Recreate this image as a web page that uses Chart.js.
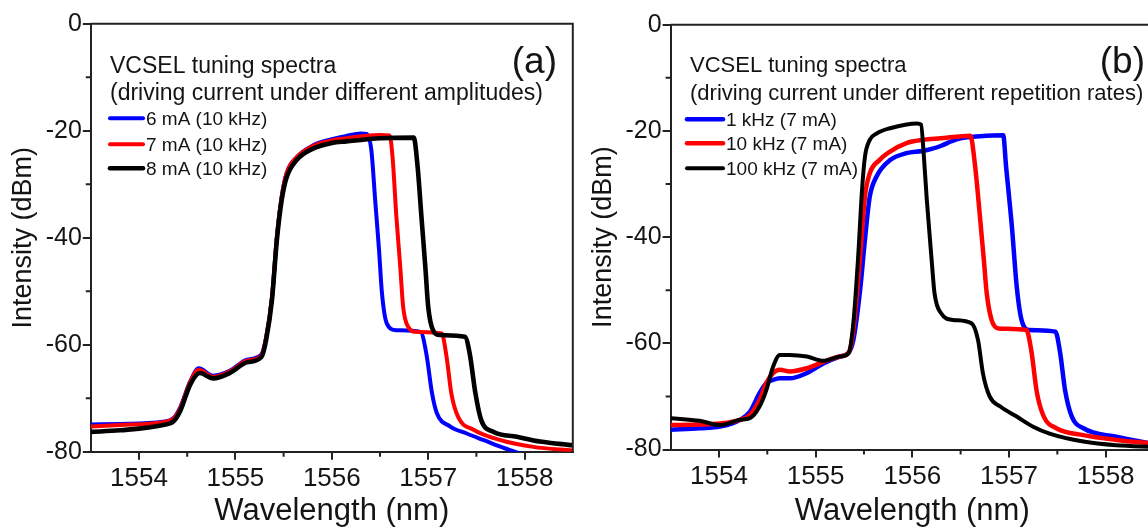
<!DOCTYPE html>
<html><head><meta charset="utf-8">
<script src="https://cdn.jsdelivr.net/npm/chart.js@4.4.0/dist/chart.umd.min.js"></script>
<style>
html,body{margin:0;padding:0;background:#fff;}
body{width:1148px;height:531px;overflow:hidden;position:relative;}
canvas{position:absolute;top:0;}
#ca{left:0;}
#cb{left:580px;}
</style></head><body>
<canvas id="ca" width="600" height="531"></canvas>
<canvas id="cb" width="590" height="531"></canvas>
<script>
// ---------- tick values ----------
const xTicks = [1554, 1555, 1556, 1557, 1558];
const xMinorTicks = [1554.5, 1555.5, 1556.5, 1557.5];
const yTicks = [-80, -60, -40, -20, 0];
const yMinorTicks = [-70, -50, -30, -10];

// ---------- panel (a): different amplitudes ----------
const aLabels = ['6 mA (10 kHz)', '7 mA (10 kHz)', '8 mA (10 kHz)'];
const a6X = [1553.5,1553.8,1554.25,1554.36,1554.43,1554.53,1554.62,1554.77,1554.94,1555.12,1555.27,1555.32,1555.38,1555.43,1555.48,1555.53,1555.64,1555.81,1556.0,1556.15,1556.30,1556.36,1556.41,1556.45,1556.49,1556.52,1556.57,1556.67,1556.92,1556.98,1557.04,1557.09,1557.23,1557.40,1557.57,1557.80,1558.0,1558.5];
const a6Y = [-74.9,-74.8,-74.4,-73.7,-71.6,-66.9,-64.4,-65.8,-64.9,-62.8,-61.8,-58.5,-51.0,-39.8,-32.3,-28.0,-24.9,-22.7,-21.6,-21.0,-20.5,-20.6,-23.6,-33.0,-42.3,-50.3,-56.0,-57.3,-57.6,-61.6,-69.1,-72.8,-75.3,-76.6,-77.8,-79.4,-80.5,-81.0];
const a7X = [1553.5,1553.8,1554.25,1554.36,1554.43,1554.53,1554.62,1554.77,1554.94,1555.12,1555.27,1555.32,1555.38,1555.43,1555.48,1555.53,1555.64,1555.81,1556.0,1556.15,1556.33,1556.50,1556.60,1556.63,1556.67,1556.71,1556.74,1556.79,1556.88,1557.14,1557.19,1557.24,1557.31,1557.47,1557.74,1558.09,1558.5];
const a7Y = [-75.3,-75.0,-74.5,-73.8,-71.8,-67.0,-64.7,-66.0,-65.0,-63.0,-62.0,-58.6,-51.2,-40.0,-32.4,-28.0,-24.9,-22.8,-21.8,-21.4,-21.0,-20.8,-20.9,-24.9,-36.1,-45.4,-52.9,-56.6,-57.6,-57.9,-62.2,-69.1,-73.5,-75.9,-77.8,-79.1,-79.8];
const a8X = [1553.5,1553.8,1554.25,1554.36,1554.43,1554.53,1554.63,1554.77,1554.94,1555.12,1555.27,1555.32,1555.38,1555.43,1555.48,1555.53,1555.64,1555.81,1556.0,1556.15,1556.5,1556.85,1556.89,1556.93,1556.97,1557.0,1557.05,1557.12,1557.38,1557.43,1557.49,1557.55,1557.68,1557.92,1558.16,1558.5];
const a8Y = [-76.3,-76.0,-75.0,-74.3,-72.3,-67.5,-65.3,-66.3,-65.3,-63.3,-62.3,-59.0,-51.5,-40.5,-33.0,-28.8,-25.4,-23.3,-22.3,-22.0,-21.4,-21.3,-26.7,-36.1,-45.4,-52.9,-57.3,-58.2,-58.5,-61.6,-69.1,-74.1,-76.3,-77.2,-78.1,-78.8];

// ---------- panel (b): different repetition rates ----------
const bLabels = ['1 kHz (7 mA)', '10 kHz (7 mA)', '100 kHz (7 mA)'];
const b1X = [1553.5,1553.8,1554.01,1554.22,1554.32,1554.42,1554.49,1554.56,1554.63,1554.73,1554.91,1555.08,1555.25,1555.34,1555.39,1555.46,1555.51,1555.56,1555.63,1555.77,1555.94,1556.1,1556.2,1556.3,1556.4,1556.5,1556.7,1556.94,1556.97,1557.03,1557.08,1557.13,1557.21,1557.48,1557.53,1557.58,1557.65,1557.77,1558.11,1558.5];
const b1Y = [-76.3,-76.0,-75.7,-74.4,-72.9,-69.4,-67.5,-66.9,-66.6,-66.6,-65.6,-63.8,-62.5,-61.8,-59.4,-50.0,-40.5,-32.4,-28.6,-25.5,-24.2,-23.8,-23.4,-22.8,-22.0,-21.4,-21.0,-20.8,-26.7,-38.0,-49.3,-55.6,-57.5,-57.8,-61.9,-68.8,-73.8,-76.0,-77.6,-79.0];
const b10X = [1553.5,1553.8,1554.01,1554.22,1554.32,1554.42,1554.49,1554.56,1554.63,1554.73,1554.91,1555.08,1555.25,1555.34,1555.39,1555.46,1555.51,1555.56,1555.66,1555.77,1555.94,1556.11,1556.29,1556.6,1556.65,1556.7,1556.74,1556.77,1556.82,1556.89,1557.18,1557.23,1557.29,1557.36,1557.49,1557.77,1558.11,1558.5];
const b10Y = [-75.4,-75.3,-75.1,-74.4,-73.5,-70.7,-67.5,-65.6,-65.0,-65.3,-64.7,-63.5,-62.5,-61.8,-57.5,-43.7,-32.4,-28.0,-25.5,-23.9,-22.3,-21.7,-21.4,-20.9,-26.7,-36.2,-44.3,-50.6,-55.6,-57.2,-57.5,-61.3,-69.4,-73.8,-76.0,-77.3,-78.2,-78.9];
const b100X = [1553.5,1553.8,1554.01,1554.22,1554.32,1554.42,1554.49,1554.56,1554.63,1554.73,1554.91,1555.08,1555.25,1555.34,1555.39,1555.44,1555.48,1555.51,1555.56,1555.63,1555.77,1556.05,1556.09,1556.12,1556.15,1556.2,1556.23,1556.3,1556.42,1556.61,1556.68,1556.73,1556.8,1556.91,1557.08,1557.25,1557.42,1557.77,1558.11,1558.5];
const b100Y = [-74.1,-74.6,-75.4,-74.4,-74.1,-71.9,-68.8,-64.4,-62.2,-62.2,-62.5,-63.3,-62.5,-61.9,-56.2,-43.7,-31.1,-24.9,-21.7,-20.5,-19.5,-18.6,-18.8,-24.9,-33.0,-44.3,-50.6,-54.4,-55.6,-56.2,-59.4,-65.6,-70.0,-71.9,-73.8,-75.7,-77.0,-78.5,-79.2,-79.5];

const FONT = "'Liberation Sans', Arial, Helvetica, sans-serif";
const INK = '#141414';

function pts(xs, ys) { return xs.map((x, i) => ({x: x, y: ys[i]})); }

const deco = {
  id: 'deco',
  afterDraw(chart, args, o) {
    const ctx = chart.ctx, ca = chart.chartArea;
    const xs = chart.scales.x, ys = chart.scales.y;
    ctx.save();
    // frame top & right
    ctx.strokeStyle = '#222'; ctx.lineWidth = 2;
    ctx.beginPath();
    ctx.moveTo(ca.left, ca.top); ctx.lineTo(ca.right, ca.top); ctx.lineTo(ca.right, ca.bottom);
    ctx.stroke();
    // minor ticks
    ctx.beginPath();
    xMinorTicks.forEach(v => { const p = xs.getPixelForValue(v); ctx.moveTo(p, ca.bottom); ctx.lineTo(p, ca.bottom + 5); });
    yMinorTicks.forEach(v => { const p = ys.getPixelForValue(v); ctx.moveTo(ca.left, p); ctx.lineTo(ca.left - 5, p); });
    ctx.stroke();
    // annotation text
    ctx.fillStyle = INK;
    ctx.textAlign = 'left'; ctx.textBaseline = 'alphabetic';
    ctx.font = o.textSize + 'px ' + FONT;
    o.text.forEach((t, i) => ctx.fillText(t, o.textX, o.textY[i]));
    ctx.font = '37px ' + FONT;
    ctx.textAlign = 'right';
    ctx.fillText(o.tag, o.tagX, o.tagY);
    // legend
    ctx.font = '19px ' + FONT;
    ctx.textAlign = 'left'; ctx.textBaseline = 'middle';
    chart.data.datasets.forEach((d, i) => {
      const y = o.legY[i];
      ctx.strokeStyle = d.borderColor; ctx.lineWidth = d.borderWidth; ctx.lineCap = 'round';
      ctx.beginPath(); ctx.moveTo(o.legX0, y); ctx.lineTo(o.legX1, y); ctx.stroke();
      ctx.fillStyle = INK;
      ctx.fillText(d.label, o.legX1 + 3, y + 1);
    });
    ctx.restore();
  }
};

function makeChart(id, labels, series, widths, geo, decoOpts) {
  const colors = ['#0000ff', '#ff0000', '#000000'];
  const datasets = series.map((s, i) => ({
    label: labels[i],
    data: pts(s[0], s[1]),
    borderColor: colors[i],
    backgroundColor: colors[i],
    borderWidth: widths[i],
    pointRadius: 0,
    cubicInterpolationMode: 'monotone',
    fill: false,
    clip: 0,
    order: 2 - i
  }));
  return new Chart(document.getElementById(id), {
    type: 'line',
    data: {datasets: datasets},
    plugins: [deco],
    options: {
      responsive: false,
      animation: false,
      events: [],
      layout: {padding: {left: 0, top: geo.top, right: geo.right, bottom: 0}},
      plugins: {legend: {display: false}, tooltip: {enabled: false}, deco: decoOpts},
      scales: {
        x: {
          type: 'linear', min: 1553.5, max: 1558.5,
          afterBuildTicks: s => { s.ticks = xTicks.map(v => ({value: v})); },
          afterFit: s => { s.height = geo.xh; },
          ticks: {autoSkip: false, maxRotation: 0, padding: 4, color: INK, font: {family: FONT, size: 26},
                  callback: v => String(v)},
          grid: {drawOnChartArea: false, drawTicks: true, tickLength: 8, color: '#222', lineWidth: 2},
          border: {display: true, color: '#222', width: 2},
          title: {display: true, text: 'Wavelength (nm)', color: INK, font: {family: FONT, size: 31},
                  padding: {top: 0, bottom: 1}}
        },
        y: {
          type: 'linear', min: -80, max: 0,
          afterBuildTicks: s => { s.ticks = yTicks.map(v => ({value: v})); },
          afterFit: s => { s.width = geo.yw; },
          ticks: {autoSkip: false, padding: 1, color: INK, font: {family: FONT, size: 25},
                  callback: v => String(v)},
          grid: {drawOnChartArea: false, drawTicks: true, tickLength: 8, color: '#222', lineWidth: 2},
          border: {display: true, color: '#222', width: 2},
          title: {display: true, text: 'Intensity (dBm)', color: INK, font: {family: FONT, size: 27},
                  padding: {top: 7, bottom: 0}}
        }
      }
    }
  });
}

makeChart('ca', aLabels, [[a6X, a6Y], [a7X, a7Y], [a8X, a8Y]], [4, 4, 4.6],
  {top: 23.7, right: 27.2, xh: 79.3, yw: 90.8},
  {text: ['VCSEL tuning spectra', '(driving current under different amplitudes)'], textSize: 23,
   textX: 110, textY: [72.7, 100], tag: '(a)', tagX: 557, tagY: 73,
   legX0: 110, legX1: 143, legY: [118.3, 144.3, 168.3]});

makeChart('cb', bLabels, [[b1X, b1Y], [b10X, b10Y], [b100X, b100Y]], [4.5, 4.5, 4],
  {top: 24.7, right: 16, xh: 81.5, yw: 90.6},
  {text: ['VCSEL tuning spectra', '(driving current under different repetition rates)'], textSize: 22,
   textX: 110, textY: [72, 100], tag: '(b)', tagX: 565, tagY: 73,
   legX0: 107, legX1: 143, legY: [119.3, 143.3, 168.3]});
</script>
</body></html>
